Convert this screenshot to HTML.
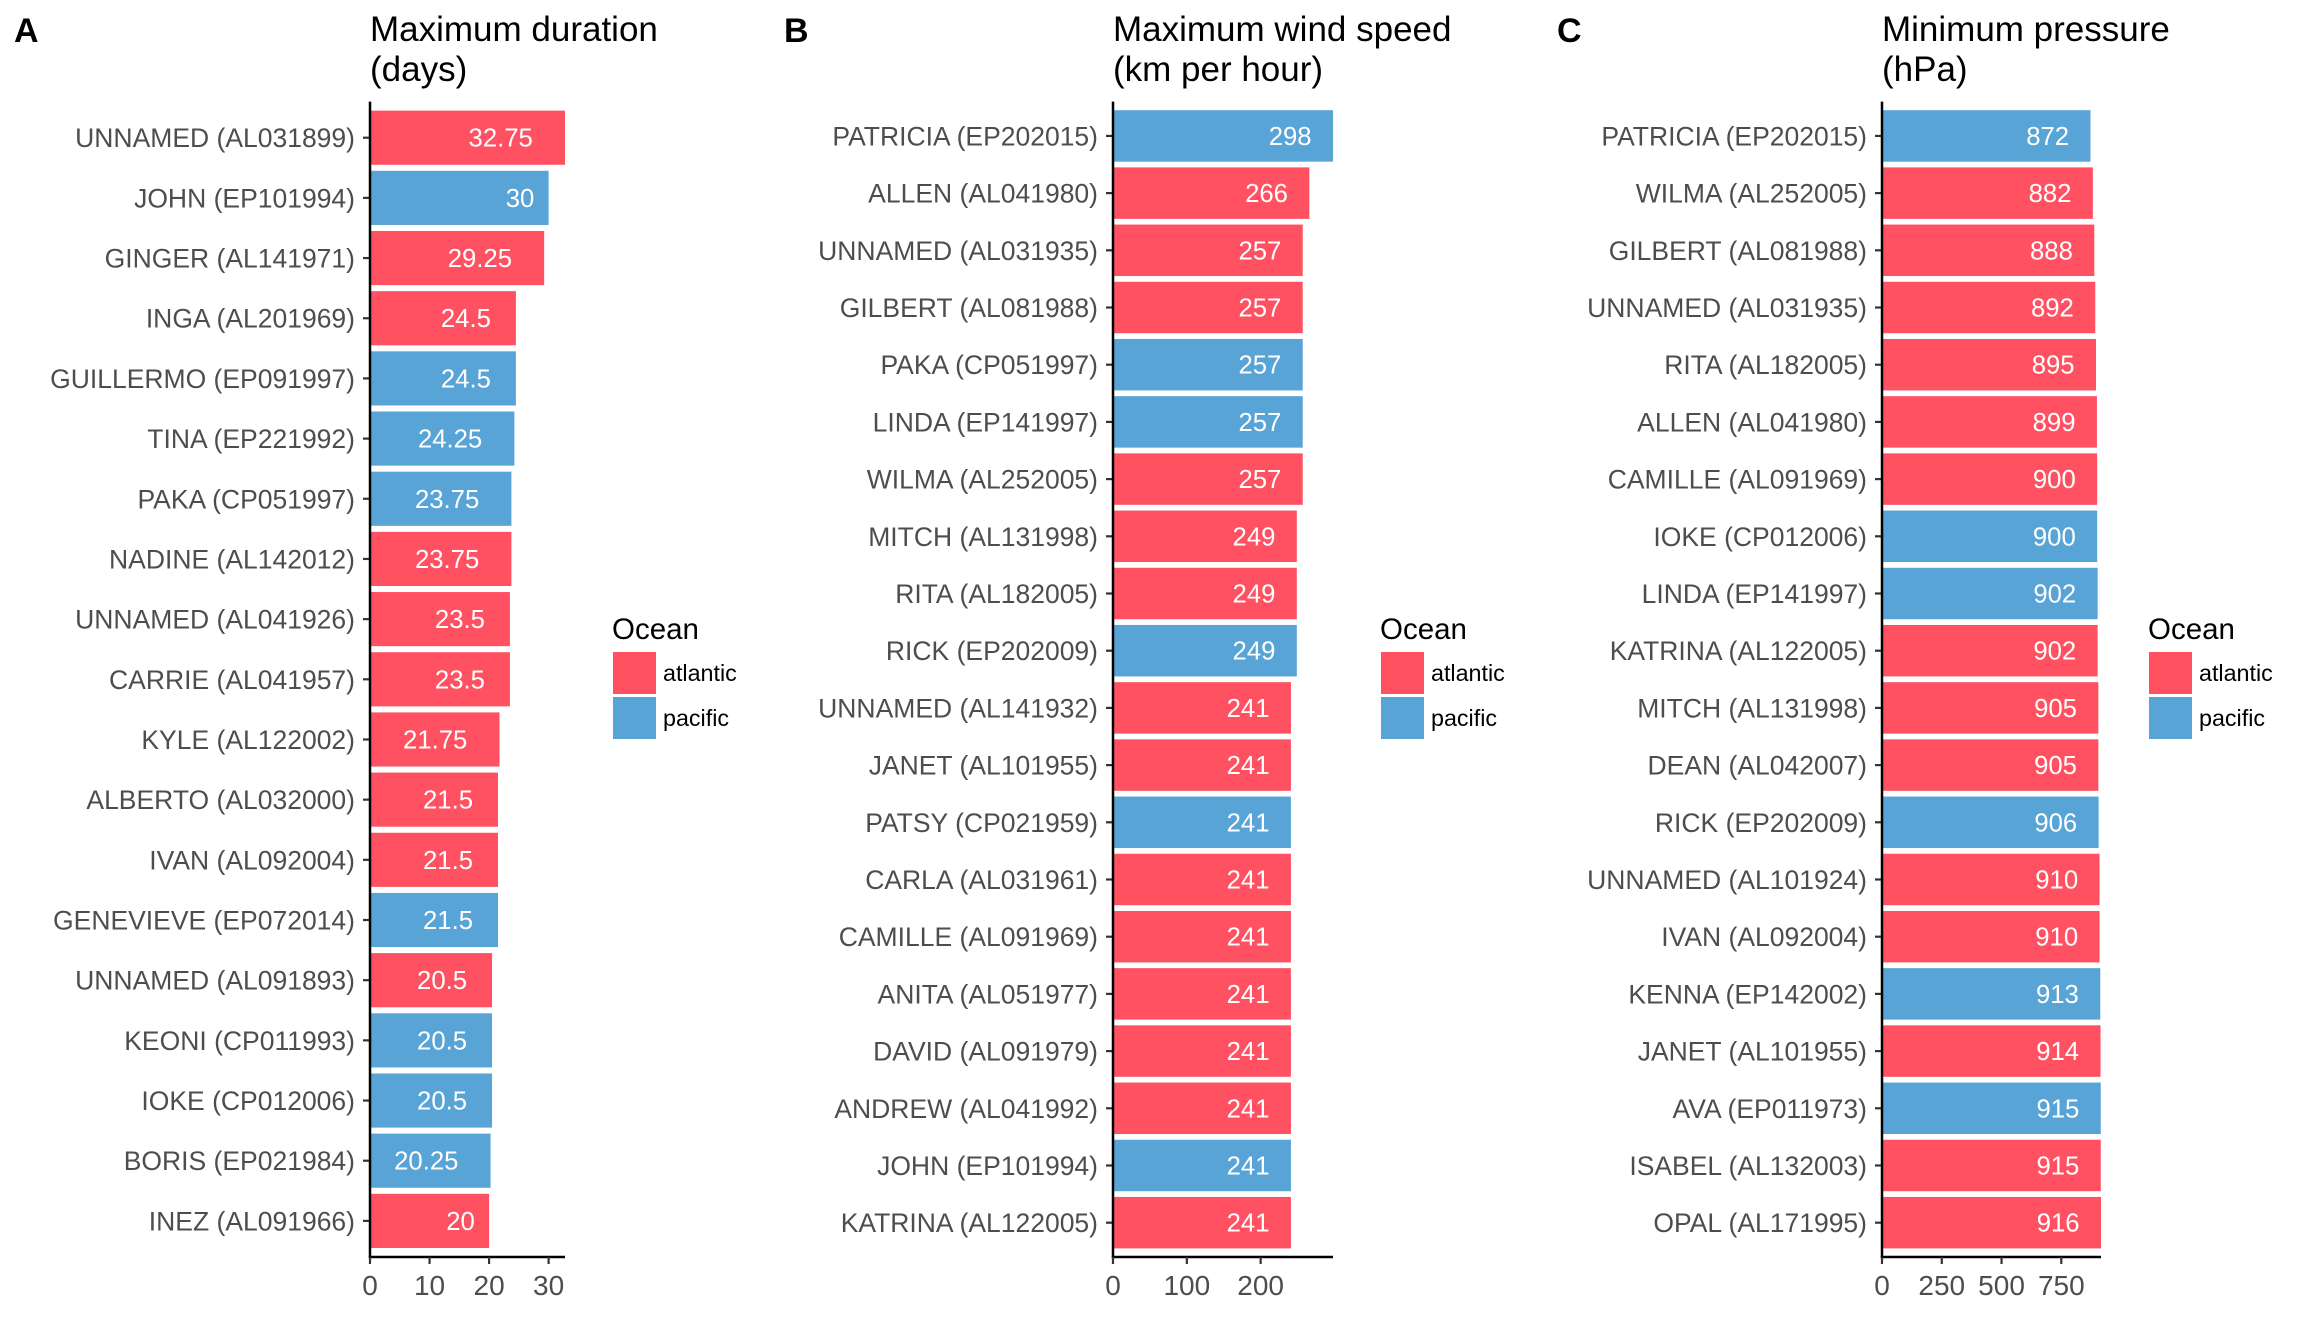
<!DOCTYPE html>
<html><head><meta charset="utf-8"><style>
html,body{margin:0;padding:0;background:#fff;}
svg{display:block;font-family:"Liberation Sans",Arial,sans-serif;}
</style></head><body>
<svg id="chart" width="2304" height="1344" viewBox="0 0 2304 1344" xmlns="http://www.w3.org/2000/svg"></svg>
<script>
const namesA = ["UNNAMED (AL031899)","JOHN (EP101994)","GINGER (AL141971)","INGA (AL201969)","GUILLERMO (EP091997)","TINA (EP221992)","PAKA (CP051997)","NADINE (AL142012)","UNNAMED (AL041926)","CARRIE (AL041957)","KYLE (AL122002)","ALBERTO (AL032000)","IVAN (AL092004)","GENEVIEVE (EP072014)","UNNAMED (AL091893)","KEONI (CP011993)","IOKE (CP012006)","BORIS (EP021984)","INEZ (AL091966)"];
const valuesA = [32.75,30,29.25,24.5,24.5,24.25,23.75,23.75,23.5,23.5,21.75,21.5,21.5,21.5,20.5,20.5,20.5,20.25,20];
const oceanA = ["a","p","a","a","p","p","p","a","a","a","a","a","a","p","a","p","p","p","a"];
const ticksA = [0,10,20,30];

const namesB = ["PATRICIA (EP202015)","ALLEN (AL041980)","UNNAMED (AL031935)","GILBERT (AL081988)","PAKA (CP051997)","LINDA (EP141997)","WILMA (AL252005)","MITCH (AL131998)","RITA (AL182005)","RICK (EP202009)","UNNAMED (AL141932)","JANET (AL101955)","PATSY (CP021959)","CARLA (AL031961)","CAMILLE (AL091969)","ANITA (AL051977)","DAVID (AL091979)","ANDREW (AL041992)","JOHN (EP101994)","KATRINA (AL122005)"];
const valuesB = [298,266,257,257,257,257,257,249,249,249,241,241,241,241,241,241,241,241,241,241];
const oceanB = ["p","a","a","a","p","p","a","a","a","p","a","a","p","a","a","a","a","a","p","a"];
const ticksB = [0,100,200];

const namesC = ["PATRICIA (EP202015)","WILMA (AL252005)","GILBERT (AL081988)","UNNAMED (AL031935)","RITA (AL182005)","ALLEN (AL041980)","CAMILLE (AL091969)","IOKE (CP012006)","LINDA (EP141997)","KATRINA (AL122005)","MITCH (AL131998)","DEAN (AL042007)","RICK (EP202009)","UNNAMED (AL101924)","IVAN (AL092004)","KENNA (EP142002)","JANET (AL101955)","AVA (EP011973)","ISABEL (AL132003)","OPAL (AL171995)"];
const valuesC = [872,882,888,892,895,899,900,900,902,902,905,905,906,910,910,913,914,915,915,916];
const oceanC = ["p","a","a","a","a","a","a","p","p","a","a","a","p","a","a","p","a","p","a","a"];
const ticksC = [0,250,500,750];

const RED = "#FF5162", BLUE = "#58A4D6";
const svg = document.getElementById("chart");
const NS = "http://www.w3.org/2000/svg";
function mk(tag, attrs, parent) {
  const e = document.createElementNS(NS, tag);
  for (const k in attrs) e.setAttribute(k, attrs[k]);
  (parent || svg).appendChild(e);
  return e;
}
const TOP = 101.6, BOT = 1257;

function panel(letter, t1, t2, letterX, x0, pxMax, names, vals, ocean, ticks, key) {
  const g = mk("g", {});
  
  
  const maxV = Math.max(...vals);
  const xs = v => x0 + (v / maxV) * (pxMax - x0);
  const n = names.length;
  const u = (BOT - TOP) / (n + 0.2);
  const yc = i => TOP + (0.6 + i) * u;

  let t = mk("text", {x: letterX, y: 42, "font-size": 34, "font-weight": "bold", fill: "#000"}, g);
  t.textContent = letter;
  
  
  t = mk("text", {x: x0, y: 41, "font-size": 35, fill: "#000"}, g);
  t.textContent = t1;
  
  
  t = mk("text", {x: x0, y: 81, "font-size": 35, fill: "#000"}, g);
  t.textContent = t2;
  
  

  for (let i = 0; i < n; i++) {
    const h = 0.9 * u;
    const r = mk("rect", {x: x0, y: yc(i) - h / 2, width: xs(vals[i]) - x0, height: h, fill: ocean[i] === "a" ? RED : BLUE}, g);
    
    
    const lab = mk("text", {x: x0 - 15, y: yc(i) + 9.5, "font-size": 26.5, fill: "#4d4d4d", "text-anchor": "end"}, g);
    lab.textContent = names[i];
    
    
    const tk = mk("line", {x1: x0 - 7, x2: x0, y1: yc(i), y2: yc(i), stroke: "#333", "stroke-width": 2.2}, g);
    
    
    const vl = mk("text", {x: 0, y: yc(i) + 9, "font-size": 25.7, fill: "#fff", "text-anchor": "middle"}, g);
    vl.textContent = String(vals[i]);
    
    
    const w = vl.getComputedTextLength();
    vl.setAttribute("x", xs(vals[i]) - w);
  }
  const ya = mk("line", {x1: x0, x2: x0, y1: TOP, y2: BOT + 1.2, stroke: "#000", "stroke-width": 2.5}, g);
  
  
  const xa = mk("line", {x1: x0 - 1.2, x2: pxMax, y1: BOT, y2: BOT, stroke: "#000", "stroke-width": 2.5}, g);
  
  
  ticks.forEach(v => {
    const tl = mk("line", {x1: xs(v), x2: xs(v), y1: BOT, y2: BOT + 7, stroke: "#333", "stroke-width": 2.2}, g);
    
    
    const tt = mk("text", {x: xs(v), y: 1295, "font-size": 28, fill: "#4d4d4d", "text-anchor": "middle"}, g);
    tt.textContent = String(v);
    
    
  });
  const lx = pxMax + 48;
  const lg = mk("g", {}, g);
  
  
  t = mk("text", {x: lx - 1, y: 639, "font-size": 29.5, fill: "#000"}, lg);
  t.textContent = "Ocean";
  
  
  [["atlantic", RED, 652], ["pacific", BLUE, 697]].forEach(([nm, col, y]) => {
    const kr = mk("rect", {x: lx, y: y, width: 43, height: 42, fill: col}, lg);
    
    
    const kt = mk("text", {x: lx + 50, y: y + 29, "font-size": 23.3, fill: "#000"}, lg);
    kt.textContent = nm;
    
    
  });
}
panel("A", "Maximum duration", "(days)", 14, 370, 565, namesA, valuesA, oceanA, ticksA, "duration");
panel("B", "Maximum wind speed", "(km per hour)", 784, 1113, 1333, namesB, valuesB, oceanB, ticksB, "wind");
panel("C", "Minimum pressure", "(hPa)", 1557, 1882, 2101, namesC, valuesC, oceanC, ticksC, "pressure");
</script>
</body></html>
